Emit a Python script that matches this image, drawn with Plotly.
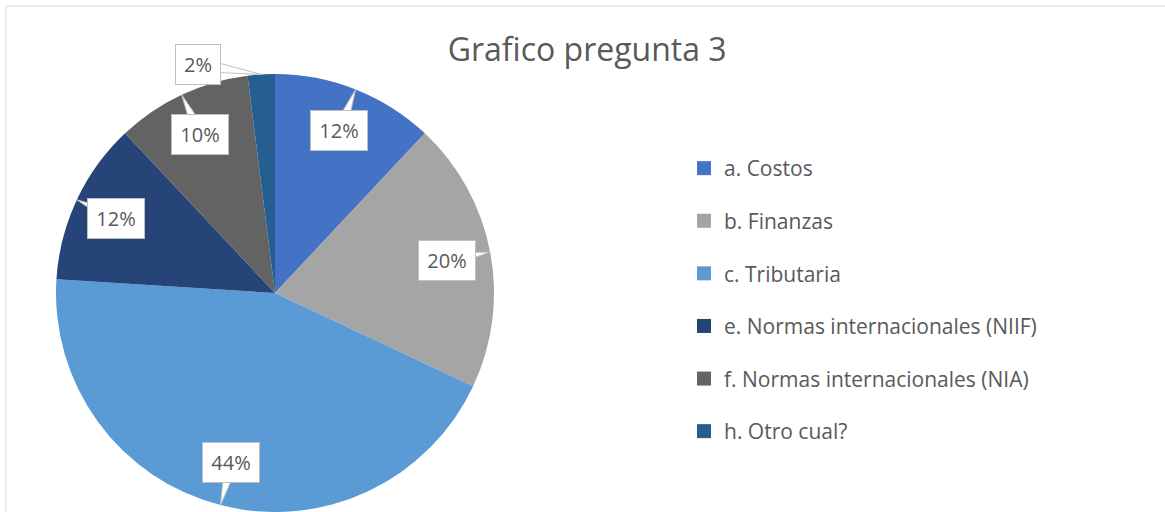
import math
import plotly.graph_objects as go

categorias = ['a. Costos', 'b. Finanzas', 'c. Tributaria',
              'e. Normas internacionales (NIIF)', 'f. Normas internacionales (NIA)',
              'h. Otro cual?']
porcentajes = [12, 20, 44, 12, 10, 2]
colores = ['#4472C4', '#A5A5A5', '#5B9BD5', '#264478', '#636363', '#255E91']

W, H = 1165, 512
# pie centre / radius in pixels (margins are zero so paper == page)
cx, cy, R = 275, 293, 219
FONT = 'Open Sans'
GRIS = '#595959'


def to_paper(px, py):
    return px / W, 1 - py / H


pie = go.Pie(labels=categorias, values=porcentajes, sort=False,
             direction='clockwise', rotation=0,
             marker=dict(colors=colores, line=dict(color='white', width=0)),
             textinfo='none', hoverinfo='label+percent', showlegend=False,
             domain=dict(x=[(cx - R) / W, (cx + R) / W],
                         y=[1 - (cy + R) / H, 1 - (cy - R) / H]))

# legend proxies (pie legend rows cannot be spaced out)
proxies = [go.Scatter(x=[None], y=[None], mode='markers', name=c, legendgroup=c,
                      marker=dict(symbol='square', size=14, color=col),
                      hoverinfo='skip')
           for c, col in zip(categorias, colores)]

fig = go.Figure(data=[pie] + proxies)

# callout labels placed along each slice's mid-angle
shapes = [dict(type='rect', xref='paper', yref='paper',
               x0=6 / W, y0=-0.02, x1=1.02, y1=1 - 6 / H,
               line=dict(color='#D9D9D9', width=1), fillcolor='rgba(0,0,0,0)')]
annotations = []
total = sum(porcentajes)
acum = 0
for v in porcentajes:
    mid = (acum + v / 2) / total * 360
    acum += v
    pct = round(v / total * 100)
    th = math.radians(mid)
    tipx, tipy = cx + R * math.sin(th), cy - R * math.cos(th)
    if pct < 5:
        th2 = math.radians(mid - 15)
        lx, ly = cx + 1.1 * R * math.sin(th2), cy - 1.1 * R * math.cos(th2)
    else:
        lx, ly = cx + 0.8 * R * math.sin(th), cy - 0.8 * R * math.cos(th)
    # wedge pointer
    dx, dy = tipx - lx, tipy - ly
    d = math.hypot(dx, dy)
    nx, ny = -dy / d * 7, dx / d * 7
    pts = [to_paper(lx + nx, ly + ny), to_paper(tipx, tipy), to_paper(lx - nx, ly - ny)]
    path = 'M {} {} L {} {} L {} {} Z'.format(*[c for p in pts for c in p])
    shapes.append(dict(type='path', xref='paper', yref='paper', path=path,
                       fillcolor='white', line=dict(color='#BFBFBF', width=1),
                       layer='above'))
    txt = f'{pct}%'
    px_, py_ = to_paper(lx, ly)
    annotations.append(dict(x=px_, y=py_, xref='paper', yref='paper', text=txt,
                            xanchor='center', yanchor='middle',
                            showarrow=False, bgcolor='white', bordercolor='#BFBFBF',
                            borderwidth=1, borderpad=6, width=12 * len(txt) + 8,
                            font=dict(family=FONT, size=20, color=GRIS)))

fig.update_layout(
    width=W, height=H,
    margin=dict(l=0, r=0, t=0, b=0),
    paper_bgcolor='white', plot_bgcolor='white',
    title=dict(text='Grafico pregunta 3', x=0.504, xanchor='center',
               y=1 - 50 / H, yanchor='middle',
               font=dict(family=FONT, size=32, color=GRIS)),
    xaxis=dict(visible=False), yaxis=dict(visible=False),
    legend=dict(x=684 / W, xanchor='left', y=1 - 148 / H, yanchor='top',
                tracegroupgap=22.3, font=dict(family=FONT, size=21, color=GRIS),
                bgcolor='rgba(0,0,0,0)'),
    shapes=shapes, annotations=annotations,
)

fig.write_html('out.html', config={'displayModeBar': False},
               post_script="document.body.style.margin='0px';")
